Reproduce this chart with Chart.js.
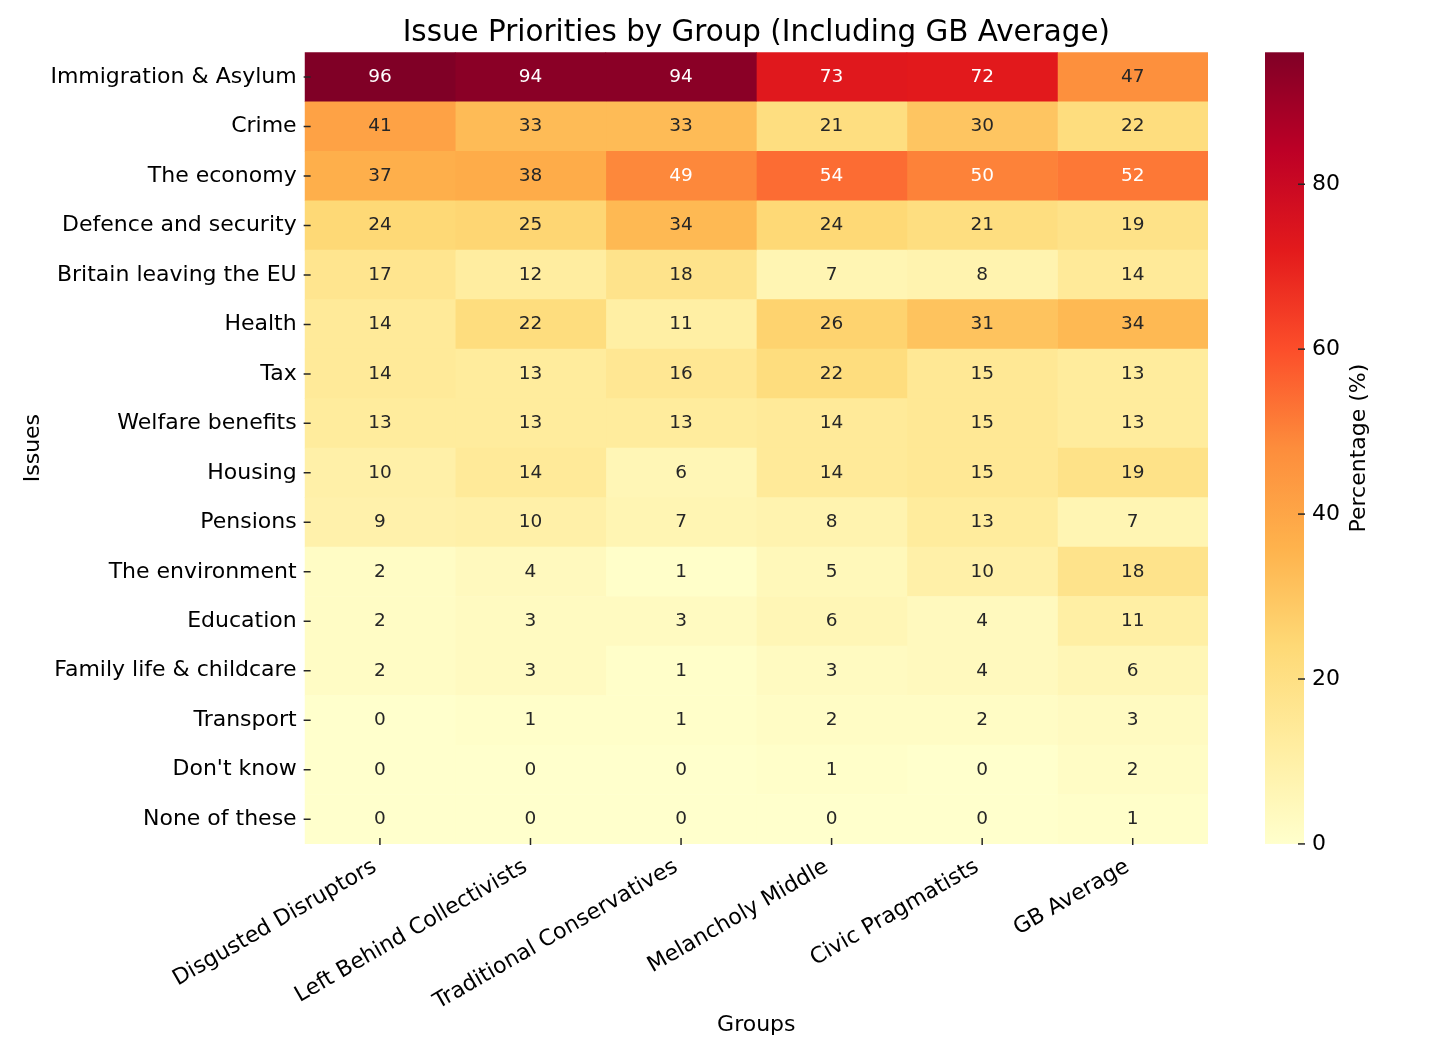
<!DOCTYPE html>
<html>
<head>
<meta charset="utf-8">
<script src="https://cdn.jsdelivr.net/npm/chart.js@4.4.1/dist/chart.umd.min.js"></script>
<style>
  html, body { margin: 0; padding: 0; background: #fff; overflow: hidden; }
  canvas { display: block; }
</style>
</head>
<body>
<canvas id="heatmap" width="1456" height="1059"></canvas>
<script>
// Rows (issues) and columns (groups)
const issues = [
    'Immigration & Asylum', 'Crime', 'The economy', 'Defence and security',
    'Britain leaving the EU', 'Health', 'Tax', 'Welfare benefits', 'Housing',
    'Pensions', 'The environment', 'Education', 'Family life & childcare',
    'Transport', "Don't know", 'None of these'
];
const groups = [
    'Disgusted Disruptors', 'Left Behind Collectivists', 'Traditional Conservatives',
    'Melancholy Middle', 'Civic Pragmatists', 'GB Average'
];

// Percentages per group, in the order of issues
const disgustedDisruptors      = [96, 41, 37, 24, 17, 14, 14, 13, 10, 9, 2, 2, 2, 0, 0, 0];
const leftBehindCollectivists  = [94, 33, 38, 25, 12, 22, 13, 13, 14, 10, 4, 3, 3, 1, 0, 0];
const traditionalConservatives = [94, 33, 49, 34, 18, 11, 16, 13, 6, 7, 1, 3, 1, 1, 0, 0];
const melancholyMiddle         = [73, 21, 54, 24, 7, 26, 22, 14, 14, 8, 5, 6, 3, 2, 1, 0];
const civicPragmatists         = [72, 30, 50, 21, 8, 31, 15, 15, 15, 13, 10, 4, 4, 2, 0, 0];
const gbAverage                = [47, 22, 52, 19, 14, 34, 13, 13, 19, 7, 18, 11, 6, 3, 2, 1];

const values = [
    disgustedDisruptors, leftBehindCollectivists, traditionalConservatives,
    melancholyMiddle, civicPragmatists, gbAverage
];

// Colour bar range and ticks
const colorMin = 0;
const colorMax = 96;
const colorTicks = [0, 20, 40, 60, 80];

// YlOrRd
const ylOrRd = ['#ffffcc', '#ffeda0', '#fed976', '#feb24c', '#fd8d3c', '#fc4e2a', '#e31a1c', '#bd0026', '#800026'];

function hexToRgb(h) {
    return [parseInt(h.slice(1, 3), 16), parseInt(h.slice(3, 5), 16), parseInt(h.slice(5, 7), 16)];
}
const stops = ylOrRd.map(hexToRgb);

function cmap(v) {
    let n = (v - colorMin) / (colorMax - colorMin);
    n = Math.min(Math.max(n, 0), 1);
    const t = Math.min(255, Math.floor(n * 256)) / 255;   // 256-entry lookup like matplotlib
    const pos = t * (stops.length - 1);
    const i = Math.min(Math.floor(pos), stops.length - 2);
    const f = pos - i;
    return stops[i].map((c, k) => Math.round(c + (stops[i + 1][k] - c) * f));
}

function rgbStr(c) {
    return 'rgb(' + c[0] + ',' + c[1] + ',' + c[2] + ')';
}

function textColorFor(c) {
    const lin = c.map(x => {
        x = x / 255;
        return x <= 0.03928 ? x / 12.92 : Math.pow((x + 0.055) / 1.055, 2.4);
    });
    const lum = 0.2126 * lin[0] + 0.7152 * lin[1] + 0.0722 * lin[2];
    return lum > 0.408 ? '#262626' : '#ffffff';
}

const FONT = 'DejaVu Sans';
const TICK_COLOR = '#262626';

// each group is a stacked column of unit cells, coloured by its value
const datasets = groups.map((g, gi) => ({
    label: g,
    data: issues.map(() => 1),
    backgroundColor: values[gi].map(v => rgbStr(cmap(v))),
    borderWidth: 0,
    barPercentage: 1,
    categoryPercentage: 1
}));

const cellLabels = {
    id: 'cellLabels',
    afterDatasetsDraw(chart) {
        const ctx = chart.ctx;
        ctx.save();
        ctx.font = '18.5px "' + FONT + '"';
        ctx.textAlign = 'center';
        ctx.textBaseline = 'middle';
        chart.data.datasets.forEach((ds, gi) => {
            const meta = chart.getDatasetMeta(gi);
            meta.data.forEach((bar, ri) => {
                const v = values[gi][ri];
                ctx.fillStyle = textColorFor(cmap(v));
                ctx.fillText(String(v), (bar.x + bar.base) / 2, bar.y);
            });
        });
        ctx.restore();
    }
};

// short tick marks sitting on the edge of the cells, as in the original
const tickMarks = {
    id: 'tickMarks',
    afterDatasetsDraw(chart) {
        const ctx = chart.ctx;
        const area = chart.chartArea;
        const xs = chart.scales.x;
        const ys = chart.scales.y;
        ctx.save();
        ctx.strokeStyle = TICK_COLOR;
        ctx.lineWidth = 1.5;
        ctx.beginPath();
        xs.ticks.forEach((t, i) => {
            const x = xs.getPixelForTick(i);
            ctx.moveTo(x, area.bottom - 6);
            ctx.lineTo(x, area.bottom + 1);
        });
        ys.ticks.forEach((t, i) => {
            const y = ys.getPixelForTick(i);
            ctx.moveTo(area.left - 1, y);
            ctx.lineTo(area.left + 6, y);
        });
        ctx.stroke();
        ctx.restore();
    }
};

const colorBar = {
    id: 'colorBar',
    afterDraw(chart) {
        const scale = chart.scales.cb;
        const ctx = chart.ctx;
        const x0 = scale.left + 57;
        const w = 39;
        const yTop = scale.getPixelForValue(colorMax);
        const yBot = scale.getPixelForValue(colorMin);
        const grad = ctx.createLinearGradient(0, yBot, 0, yTop);
        ylOrRd.forEach((c, i) => grad.addColorStop(i / (ylOrRd.length - 1), c));
        ctx.save();
        ctx.fillStyle = grad;
        ctx.fillRect(x0, yTop, w, yBot - yTop);
        ctx.strokeStyle = TICK_COLOR;
        ctx.lineWidth = 1.5;
        colorTicks.forEach(v => {
            const y = scale.getPixelForValue(v);
            ctx.beginPath();
            ctx.moveTo(x0 + w - 6, y);
            ctx.lineTo(x0 + w + 1, y);
            ctx.stroke();
        });
        ctx.translate(scale.left + 151, (yTop + yBot) / 2);
        ctx.rotate(-Math.PI / 2);
        ctx.fillStyle = '#000';
        ctx.font = '22px "' + FONT + '"';
        ctx.textAlign = 'center';
        ctx.textBaseline = 'middle';
        ctx.fillText('Percentage (%)', 0, 0);
        ctx.restore();
    }
};

new Chart(document.getElementById('heatmap').getContext('2d'), {
    type: 'bar',
    data: {
        labels: issues,
        datasets: datasets
    },
    plugins: [cellLabels, tickMarks, colorBar],
    options: {
        indexAxis: 'y',
        responsive: false,
        animation: false,
        devicePixelRatio: 1,
        layout: {
            padding: { left: 18, right: 112, top: 0, bottom: 21 }
        },
        plugins: {
            legend: { display: false },
            tooltip: { enabled: false },
            title: {
                display: true,
                text: 'Issue Priorities by Group (Including GB Average)',
                fullSize: false,
                color: '#000',
                font: { family: FONT, size: 29.4, weight: 'normal' },
                padding: { top: 16, bottom: 1 }
            }
        },
        scales: {
            x: {
                type: 'linear',
                stacked: true,
                min: 0,
                max: groups.length,
                afterBuildTicks(scale) {
                    scale.ticks = groups.map((g, i) => ({ value: i + 0.5 }));
                },
                ticks: {
                    autoSkip: false,
                    minRotation: 30,
                    maxRotation: 30,
                    padding: 3,
                    labelOffset: -5,
                    color: '#000',
                    font: { family: FONT, size: 22 },
                    callback: (value, index) => groups[index]
                },
                // transparent: only keeps the gap, marks are drawn by tickMarks
                grid: {
                    drawOnChartArea: false,
                    tickLength: 7,
                    color: 'rgba(0,0,0,0)'
                },
                border: { display: false },
                title: {
                    display: true,
                    text: 'Groups',
                    color: '#000',
                    font: { family: FONT, size: 22 },
                    padding: { top: -7, bottom: 0 }
                }
            },
            y: {
                type: 'category',
                stacked: true,
                ticks: {
                    autoSkip: false,
                    padding: 1,
                    color: '#000',
                    font: { family: FONT, size: 22 }
                },
                grid: {
                    drawOnChartArea: false,
                    offset: false,
                    tickLength: 7,
                    color: 'rgba(0,0,0,0)'
                },
                border: { display: false },
                title: {
                    display: true,
                    text: 'Issues',
                    color: '#000',
                    font: { family: FONT, size: 22 },
                    padding: { top: 2, bottom: 3 }
                }
            },
            cb: {
                type: 'linear',
                axis: 'y',
                position: 'right',
                offset: false,
                min: colorMin,
                max: colorMax,
                afterBuildTicks(scale) {
                    scale.ticks = colorTicks.map(v => ({ value: v }));
                },
                ticks: {
                    padding: 4,
                    color: '#000',
                    font: { family: FONT, size: 22 }
                },
                // invisible tick marks only reserve the gap and bar width
                grid: {
                    drawOnChartArea: false,
                    offset: false,
                    tickLength: 100,
                    color: 'rgba(0,0,0,0)'
                },
                border: { display: false }
            }
        }
    }
});
</script>
</body>
</html>
